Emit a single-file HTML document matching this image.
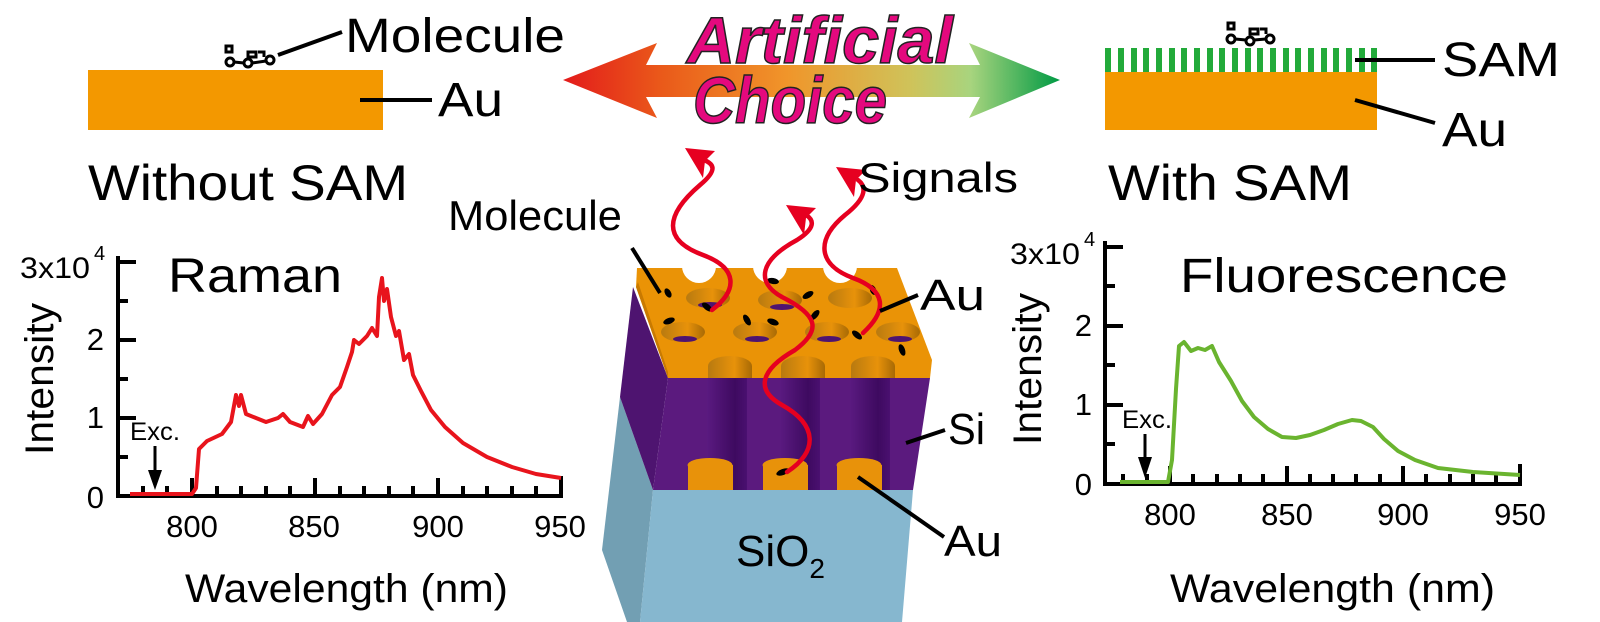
<!DOCTYPE html>
<html><head><meta charset="utf-8"><style>
html,body{margin:0;padding:0;background:#fff;}
svg{display:block;}
text{font-family:"Liberation Sans",Arial,sans-serif;fill:#000;}
</style></head><body>
<svg width="1600" height="622" viewBox="0 0 1600 622" xmlns="http://www.w3.org/2000/svg">
<defs>
<linearGradient id="ag" x1="563" y1="0" x2="1060" y2="0" gradientUnits="userSpaceOnUse">
<stop offset="0" stop-color="#e31b1b"/><stop offset="0.2" stop-color="#ea5a1a"/><stop offset="0.45" stop-color="#f0952a"/><stop offset="0.7" stop-color="#cfc35a"/><stop offset="0.82" stop-color="#a8d47e"/><stop offset="1" stop-color="#009a44"/></linearGradient>
<linearGradient id="hole" x1="0" y1="0" x2="1" y2="0"><stop offset="0" stop-color="#b87a10"/><stop offset="0.6" stop-color="#e8920a"/><stop offset="1" stop-color="#a86a05"/></linearGradient>
<linearGradient id="col" x1="0" y1="0" x2="1" y2="0"><stop offset="0" stop-color="#5a1a80"/><stop offset="0.7" stop-color="#3e0a60"/><stop offset="1" stop-color="#4a1070"/></linearGradient>
</defs>

<!-- top left -->
<rect x="88" y="70" width="295" height="60" fill="#f39800"/>
<g stroke="#000" stroke-width="3" fill="none">
<circle cx="230" cy="62" r="4"/><circle cx="248" cy="63" r="4"/><circle cx="270" cy="60" r="4"/>
<path d="M234,62 L244,63 M252,63 L266,61 M226,46 h6 v6 h-6z M248,52 h8 v5 h-8z M258,52 h6 v5"/>
</g>
<line x1="278" y1="55" x2="342" y2="32" stroke="#000" stroke-width="4"/>
<line x1="360" y1="100" x2="432" y2="100" stroke="#000" stroke-width="4"/>
<text x="345" y="52" font-size="48" textLength="220" lengthAdjust="spacingAndGlyphs">Molecule</text>
<text x="438" y="116" font-size="48" textLength="65" lengthAdjust="spacingAndGlyphs">Au</text>
<text x="88" y="200" font-size="50" textLength="320" lengthAdjust="spacingAndGlyphs">Without SAM</text>

<!-- top right -->
<rect x="1105" y="72" width="272" height="58" fill="#f39800"/>
<g fill="#22aa3a">
<rect x="1105" y="48" width="6" height="24"/><rect x="1118" y="48" width="6" height="24"/><rect x="1131" y="48" width="6" height="24"/><rect x="1143" y="48" width="6" height="24"/><rect x="1156" y="48" width="6" height="24"/><rect x="1169" y="48" width="6" height="24"/><rect x="1181" y="48" width="6" height="24"/><rect x="1194" y="48" width="6" height="24"/><rect x="1207" y="48" width="6" height="24"/><rect x="1219" y="48" width="6" height="24"/><rect x="1232" y="48" width="6" height="24"/><rect x="1245" y="48" width="6" height="24"/><rect x="1257" y="48" width="6" height="24"/><rect x="1270" y="48" width="6" height="24"/><rect x="1283" y="48" width="6" height="24"/><rect x="1295" y="48" width="6" height="24"/><rect x="1308" y="48" width="6" height="24"/><rect x="1321" y="48" width="6" height="24"/><rect x="1333" y="48" width="6" height="24"/><rect x="1346" y="48" width="6" height="24"/><rect x="1359" y="48" width="6" height="24"/><rect x="1371" y="48" width="6" height="24"/>
</g>
<g stroke="#000" stroke-width="3" fill="none">
<circle cx="1231" cy="39" r="4"/><circle cx="1250" cy="41" r="4"/><circle cx="1270" cy="39" r="4"/>
<path d="M1235,39 L1246,40 M1254,40 L1266,39 M1228,23 h6 v6 h-6z M1250,29 h8 v5 h-8z M1260,29 h6 v5"/>
</g>
<line x1="1355" y1="60" x2="1435" y2="60" stroke="#000" stroke-width="4"/>
<line x1="1355" y1="100" x2="1435" y2="123" stroke="#000" stroke-width="4"/>
<text x="1442" y="76" font-size="48" textLength="118" lengthAdjust="spacingAndGlyphs">SAM</text>
<text x="1442" y="146" font-size="48" textLength="65" lengthAdjust="spacingAndGlyphs">Au</text>
<text x="1108" y="200" font-size="50" textLength="244" lengthAdjust="spacingAndGlyphs">With SAM</text>

<!-- arrow -->
<path d="M563,80 L657,43 L646,65 L980,65 L969,43 L1060,80 L969,118 L980,97 L646,97 L657,118 Z" fill="url(#ag)"/>
<g font-family="Liberation Sans,sans-serif" font-style="italic" font-weight="bold" stroke="#222" stroke-width="1.5" text-anchor="middle">
<text x="820" y="63" font-size="66" style="fill:#e4097e" textLength="266" lengthAdjust="spacingAndGlyphs">Artificial</text>
<text x="790" y="123" font-size="66" style="fill:#e4097e" textLength="194" lengthAdjust="spacingAndGlyphs">Choice</text>
</g>

<!-- device -->
<polygon points="620,397 602,550 627,622 640,622 653,490" fill="#729fb3"/>
<polygon points="653,490 913,490 902,622 640,622" fill="#86b7cf"/>
<polygon points="633,287 620,397 653,490 668,378" fill="#4e1470"/>
<polygon points="668,378 930,378 913,490 653,490" fill="#5b1a7e"/>
<rect x="707" y="372" width="40" height="118" fill="url(#col)"/>
<rect x="780" y="372" width="40" height="118" fill="url(#col)"/>
<rect x="850" y="372" width="40" height="118" fill="url(#col)"/>
<g fill="#e8920a">
<rect x="688" y="465" width="45" height="25"/><ellipse cx="710" cy="465" rx="22.5" ry="7"/>
<rect x="763" y="465" width="45" height="25"/><ellipse cx="785" cy="465" rx="22.5" ry="7"/>
<rect x="837" y="465" width="45" height="25"/><ellipse cx="859" cy="465" rx="22.5" ry="7"/>
</g>
<polygon points="637,268 897,268 932,360 930,378 668,378 636,287" fill="#ea9306"/>
<polygon points="636,287 668,378 668,372 638,282" fill="#c97a00"/>
<g fill="#fff"><circle cx="699" cy="266" r="17"/><circle cx="770" cy="266" r="17"/><circle cx="840" cy="266" r="17"/></g>
<g fill="url(#hole)">
<ellipse cx="708" cy="298" rx="22" ry="10"/><ellipse cx="780" cy="300" rx="22" ry="10"/><ellipse cx="850" cy="298" rx="22" ry="10"/>
<ellipse cx="683" cy="332" rx="22" ry="10"/><ellipse cx="755" cy="332" rx="22" ry="10"/><ellipse cx="827" cy="332" rx="22" ry="10"/><ellipse cx="898" cy="332" rx="22" ry="10"/>
<path d="M708,378 v-12 a22,10 0 0 1 44,0 v12z"/><path d="M781,378 v-12 a22,10 0 0 1 44,0 v12z"/><path d="M851,378 v-12 a22,10 0 0 1 44,0 v12z"/>
</g>
<g fill="#4e1470"><ellipse cx="710" cy="305" rx="12" ry="3"/><ellipse cx="782" cy="307" rx="12" ry="3"/><ellipse cx="685" cy="339" rx="12" ry="3"/><ellipse cx="757" cy="339" rx="12" ry="3"/><ellipse cx="829" cy="339" rx="12" ry="3"/><ellipse cx="900" cy="339" rx="12" ry="3"/></g>

<!-- molecules dots -->
<g fill="#000">
<ellipse cx="668" cy="293" rx="5" ry="3" transform="rotate(60 668 293)"/>
<ellipse cx="669" cy="321" rx="6" ry="3" transform="rotate(-20 669 321)"/>
<ellipse cx="707" cy="307" rx="6" ry="3" transform="rotate(40 707 307)"/>
<ellipse cx="747" cy="320" rx="6" ry="3" transform="rotate(60 747 320)"/>
<ellipse cx="773" cy="322" rx="6" ry="3" transform="rotate(20 773 322)"/>
<ellipse cx="773" cy="281" rx="6" ry="3" transform="rotate(10 773 281)"/>
<ellipse cx="808" cy="295" rx="6" ry="3" transform="rotate(-30 808 295)"/>
<ellipse cx="815" cy="315" rx="6" ry="3" transform="rotate(-50 815 315)"/>
<ellipse cx="857" cy="335" rx="6" ry="3" transform="rotate(40 857 335)"/>
<ellipse cx="873" cy="290" rx="5" ry="3" transform="rotate(70 873 290)"/>
<ellipse cx="902" cy="350" rx="6" ry="3" transform="rotate(70 902 350)"/>
<ellipse cx="783" cy="472" rx="7" ry="3" transform="rotate(-20 783 472)"/>
</g>

<!-- signals -->
<g stroke="#e60020" stroke-width="4.5" fill="none" stroke-linecap="round">
<path d="M712,310 C738,290 738,268 703,255 C662,240 665,215 700,185 C718,170 714,164 704,160"/>
<path d="M787,472 C818,452 818,425 782,405 C755,390 760,370 795,350 C822,330 818,315 782,297 C755,282 760,260 797,240 C816,228 814,220 806,215"/>
<path d="M863,333 C888,310 886,290 853,278 C818,265 815,240 845,215 C868,197 866,186 858,180"/>
</g>
<g fill="#e60020">
<polygon points="685,148 715,151 705,161 703,178"/>
<polygon points="786,205 816,208 806,218 804,235"/>
<polygon points="836,167 866,170 856,180 854,197"/>
</g>
<text x="858" y="192" font-size="42" textLength="160" lengthAdjust="spacingAndGlyphs">Signals</text>
<text x="448" y="230" font-size="42" textLength="174" lengthAdjust="spacingAndGlyphs">Molecule</text>
<line x1="632" y1="248" x2="660" y2="293" stroke="#000" stroke-width="4"/>
<line x1="880" y1="311" x2="918" y2="295" stroke="#000" stroke-width="4"/>
<text x="920" y="310" font-size="44" textLength="65" lengthAdjust="spacingAndGlyphs">Au</text>
<line x1="906" y1="443" x2="945" y2="430" stroke="#000" stroke-width="4"/>
<text x="948" y="444" font-size="44" textLength="37" lengthAdjust="spacingAndGlyphs">Si</text>
<line x1="858" y1="477" x2="944" y2="537" stroke="#000" stroke-width="4"/>
<text x="944" y="556" font-size="44" textLength="58" lengthAdjust="spacingAndGlyphs">Au</text>
<text x="736" y="566" font-size="44">SiO<tspan font-size="28" dy="12">2</tspan></text>

<!-- Raman plot -->
<path d="M118,256 V496 H561 V476" stroke="#000" stroke-width="4" fill="none"/>
<path d="M118,262 h18 M118,340 h18 M118,418 h18 M118,301 h10 M118,379 h10 M118,457 h10
M143,496 v-10 M167,496 v-10 M192,496 v-18 M217,496 v-10 M241,496 v-10 M266,496 v-10 M290,496 v-10 M315,496 v-18 M340,496 v-10 M364,496 v-10 M389,496 v-10 M413,496 v-10 M438,496 v-18 M463,496 v-10 M487,496 v-10 M512,496 v-10 M536,496 v-10" stroke="#000" stroke-width="4" fill="none"/>
<polyline fill="none" stroke="#e8141c" stroke-width="4" stroke-linejoin="round" points="130,494 192,494 196,488 199,449 207,441 222,434 231,422 236,395 239,406 241,395 246,414 256,418 266,422 278,418 283,414 290,422 303,427 308,416 313,424 322,414 332,395 340,387 347,367 352,352 354,340 359,344 367,336 372,328 377,336 379,297 382,278 384,301 387,289 391,317 396,336 399,331 404,360 409,354 413,375 421,391 431,410 445,427 463,443 487,457 512,467 536,474 561,478"/>
<g font-size="31" text-anchor="middle"><text x="192" y="537">800</text><text x="314" y="537">850</text><text x="438" y="537">900</text><text x="560" y="537">950</text></g>
<g font-size="31" text-anchor="end"><text x="104" y="428">1</text><text x="104" y="350">2</text><text x="104" y="508">0</text></g>
<text x="20" y="278" font-size="30" textLength="70" lengthAdjust="spacingAndGlyphs">3x10</text><text x="94" y="260" font-size="20">4</text>
<text x="168" y="292" font-size="48" textLength="174" lengthAdjust="spacingAndGlyphs">Raman</text>
<text transform="translate(53,379) rotate(-90)" font-size="40" text-anchor="middle" textLength="152" lengthAdjust="spacingAndGlyphs">Intensity</text>
<text x="185" y="602" font-size="40" textLength="323" lengthAdjust="spacingAndGlyphs">Wavelength (nm)</text>
<text x="130" y="440" font-size="25" textLength="50" lengthAdjust="spacingAndGlyphs">Exc.</text>
<path d="M155,446 V475" stroke="#000" stroke-width="3"/><polygon points="148,470 162,470 155,490" fill="#000"/>

<!-- Fluorescence plot -->
<path d="M1105,241 V484 H1520 V464" stroke="#000" stroke-width="4" fill="none"/>
<path d="M1105,247 h18 M1105,326 h18 M1105,405 h18 M1105,286 h10 M1105,365 h10 M1105,444 h10
M1123,484 v-10 M1147,484 v-10 M1170,484 v-18 M1193,484 v-10 M1217,484 v-10 M1240,484 v-10 M1263,484 v-10 M1287,484 v-18 M1310,484 v-10 M1333,484 v-10 M1356,484 v-10 M1380,484 v-10 M1403,484 v-18 M1426,484 v-10 M1450,484 v-10 M1473,484 v-10 M1496,484 v-10" stroke="#000" stroke-width="4" fill="none"/>
<polyline fill="none" stroke="#6ab42f" stroke-width="4" stroke-linejoin="round" points="1120,482 1168,482 1172,460 1176,389 1179,346 1184,342 1191,351 1198,348 1205,350 1212,346 1219,362 1231,381 1242,401 1254,417 1268,429 1282,437 1296,438 1310,435 1324,430 1338,424 1352,420 1361,421 1373,427 1384,439 1398,451 1415,460 1438,468 1473,472 1520,475"/>
<g font-size="31" text-anchor="middle"><text x="1170" y="525">800</text><text x="1287" y="525">850</text><text x="1403" y="525">900</text><text x="1520" y="525">950</text></g>
<g font-size="31" text-anchor="end"><text x="1092" y="415">1</text><text x="1092" y="336">2</text><text x="1092" y="495">0</text></g>
<text x="1010" y="264" font-size="30" textLength="70" lengthAdjust="spacingAndGlyphs">3x10</text><text x="1084" y="246" font-size="20">4</text>
<text x="1180" y="292" font-size="48" textLength="328" lengthAdjust="spacingAndGlyphs">Fluorescence</text>
<text transform="translate(1041,369) rotate(-90)" font-size="40" text-anchor="middle" textLength="152" lengthAdjust="spacingAndGlyphs">Intensity</text>
<text x="1170" y="602" font-size="40" textLength="325" lengthAdjust="spacingAndGlyphs">Wavelength (nm)</text>
<text x="1122" y="428" font-size="25" textLength="50" lengthAdjust="spacingAndGlyphs">Exc.</text>
<path d="M1145,434 V462" stroke="#000" stroke-width="3"/><polygon points="1138,457 1152,457 1145,478" fill="#000"/>
</svg>
</body></html>
